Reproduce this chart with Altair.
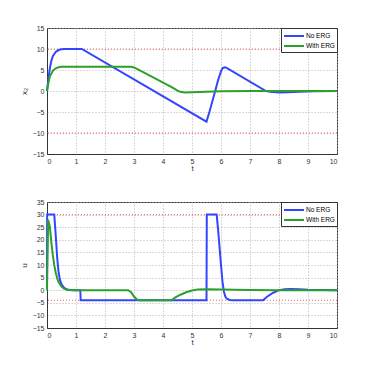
import altair as alt
import pandas as pd

# ---- top panel: x2 ----
t_x2_no = [0, 0.05, 0.1, 0.15, 0.2, 0.3, 0.4, 0.5, 0.6, 1.2, 5.5, 5.6, 5.7, 5.8, 5.9, 6.0, 6.05, 6.12, 6.18, 7.55, 7.7, 8.0, 8.3, 8.7, 9.2, 10]
x2_no = [0, 3, 5.5, 7.2, 8.3, 9.3, 9.75, 9.92, 10, 10, -7.3, -5.0, -2.5, 0, 2.6, 4.7, 5.4, 5.65, 5.55, 0, -0.2, -0.35, -0.3, -0.15, -0.05, 0]
t_x2_erg = [0, 0.05, 0.1, 0.2, 0.3, 0.4, 0.5, 2.9, 3.0, 3.2, 4.3, 4.5, 4.6, 4.75, 5.0, 5.5, 6.0, 7.0, 10]
x2_erg = [0, 2, 3.5, 4.8, 5.4, 5.65, 5.75, 5.75, 5.6, 4.9, 0.9, 0.1, -0.2, -0.35, -0.3, -0.15, -0.05, 0, 0]
x2_limits = [10, -10]

# ---- bottom panel: u ----
t_u_no = [0, 0.005, 0.25, 0.3, 0.35, 0.4, 0.45, 0.5, 0.6, 0.7, 0.8, 1.0, 1.15, 1.16, 5.5, 5.51, 5.85, 5.9, 5.95, 6.0, 6.05, 6.1, 6.15, 6.2, 6.3, 6.4, 7.45, 7.6, 7.8, 8.0, 8.2, 8.4, 8.7, 9.0, 9.5, 10]
u_no = [0, 30, 30, 22, 13, 7, 4, 2.3, 0.8, 0.3, 0.1, 0, 0, -4, -4, 30, 30, 24, 17, 10, 3.5, -0.5, -2.5, -3.4, -3.9, -4, -4, -2.5, -1.0, 0, 0.4, 0.5, 0.4, 0.2, 0.05, 0]
t_u_erg = [0, 0.04, 0.1, 0.15, 0.2, 0.25, 0.3, 0.35, 0.4, 0.5, 0.6, 0.7, 0.9, 2.8, 2.9, 3.0, 3.1, 3.2, 4.3, 4.4, 4.6, 4.8, 5.0, 5.2, 5.5, 6.0, 6.5, 7.0, 8.0, 10]
u_erg = [0, 28, 25, 19, 14, 10, 7, 4.8, 3.2, 1.4, 0.5, 0.2, 0, 0, -0.8, -2.5, -3.7, -4, -4, -3, -1.8, -0.8, -0.1, 0.3, 0.4, 0.3, 0.15, 0.05, 0, 0]
u_limits = [30, -4]

series = ["No ERG", "With ERG"]
colors = ["#3346ff", "#2ca02c"]

FONT = "Liberation Sans"


def frame(ts, vs, name):
    return pd.DataFrame({"t": ts, "v": vs, "series": name})


df_x2 = pd.concat([frame(t_x2_no, x2_no, series[0]), frame(t_x2_erg, x2_erg, series[1])])
df_u = pd.concat([frame(t_u_no, u_no, series[0]), frame(t_u_erg, u_erg, series[1])])


def panel(df, limits, ydom, ytitle):
    def yaxis():
        return alt.Axis(values=list(range(ydom[0], ydom[1] + 1, 5)), title=ytitle, grid=True,
                        ticks=False, labelPadding=3, titlePadding=4, labelOverlap=False)
    xax = alt.Axis(values=list(range(0, 11)), title="t", grid=True, ticks=False,
                   labelPadding=3, titlePadding=0, labelOverlap=False)
    x = alt.X("t:Q", scale=alt.Scale(domain=[0, 10], nice=False), axis=xax)
    y = alt.Y("v:Q", scale=alt.Scale(domain=ydom, nice=False), axis=yaxis())
    lim = alt.Chart(pd.DataFrame({"v": limits})).mark_rule(
        color="#ff3333", strokeDash=[1, 2], strokeWidth=1, opacity=0.8
    ).encode(y=alt.Y("v:Q", scale=alt.Scale(domain=ydom, nice=False), axis=yaxis()))
    lines = alt.Chart(df).mark_line(strokeWidth=2).encode(
        x=x, y=y,
        color=alt.Color("series:N", scale=alt.Scale(domain=series, range=colors),
                        legend=alt.Legend(title=None, orient="top-right")),
    )
    return alt.layer(lim, lines).properties(width=290, height=126)


top = panel(df_x2, x2_limits, [-15, 15], "x₂")
bottom = panel(df_u, u_limits, [-15, 35], "u")

chart = alt.vconcat(top, bottom, spacing=48, bounds="flush").resolve_legend(
    color="independent"
).resolve_scale(y="independent").properties(
    padding={"left": 11, "top": 15, "right": 5, "bottom": 5}
).configure(font=FONT).configure_view(
    stroke="#333333", strokeWidth=1
).configure_axis(
    labelFontSize=7, titleFontSize=8, labelColor="#333333", titleColor="#333333",
    titleFontWeight="normal", domainColor="#333333", gridColor="#b4b4b4",
    gridDash=[1, 2], gridWidth=1, labelFont=FONT, titleFont=FONT
).configure_legend(
    offset=0, padding=2, strokeColor="#333333", fillColor="white",
    symbolType="M-2,0H2", symbolSize=100, symbolStrokeWidth=2, labelFontSize=6.5,
    rowPadding=0, labelOffset=6, symbolOffset=5, cornerRadius=0
)

chart.save("out.html", embed_options={"renderer": "svg", "actions": False})
